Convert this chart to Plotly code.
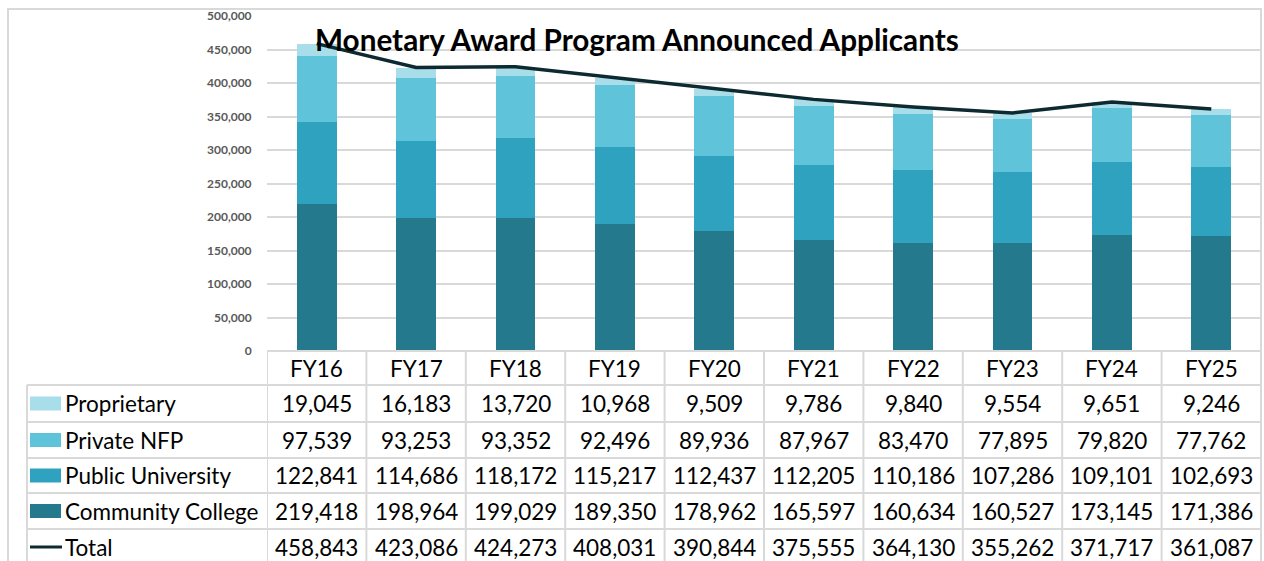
import plotly.graph_objects as go

# ---------------- data ----------------
years = ["FY16", "FY17", "FY18", "FY19", "FY20", "FY21", "FY22", "FY23", "FY24", "FY25"]
proprietary = [19045, 16183, 13720, 10968, 9509, 9786, 9840, 9554, 9651, 9246]
private_nfp = [97539, 93253, 93352, 92496, 89936, 87967, 83470, 77895, 79820, 77762]
public_univ = [122841, 114686, 118172, 115217, 112437, 112205, 110186, 107286, 109101, 102693]
community = [219418, 198964, 199029, 189350, 178962, 165597, 160634, 160527, 173145, 171386]
total = [458843, 423086, 424273, 408031, 390844, 375555, 364130, 355262, 371717, 361087]

title_text = "Monetary Award Program Announced Applicants"

# ---------------- style ----------------
W, H = 1264, 561
FONT = "Lato, 'Open Sans', sans-serif"
C_CC = "#247A8C"
C_PU = "#2EA2BF"
C_PN = "#5FC3DA"
C_PR = "#A8DDEA"
C_TOT = "#0D2A30"
GRID = "#D9D9D9"
TXT = 22.5

# pixel layout helpers (top-left origin)
def px(x):
    return x / W

def py(y):
    return 1 - y / H

plot_left, plot_right = 267, 1261
plot_top, plot_bottom = 16, 351
table_left = 27
row_edges = [351, 385, 422, 458, 493, 529, 565]

fig = go.Figure()

series = [
    ("Community College", community, C_CC),
    ("Public University", public_univ, C_PU),
    ("Private NFP", private_nfp, C_PN),
    ("Proprietary", proprietary, C_PR),
]
for name, vals, col in series:
    fig.add_trace(go.Bar(x=years, y=vals, name=name, marker=dict(color=col, line=dict(width=0)),
                         width=0.4))

fig.add_trace(go.Scatter(x=years, y=total, name="Total", mode="lines",
                         line=dict(color=C_TOT, width=3.5)))

shapes = []
annotations = []

# outer chart border
shapes.append(dict(type="rect", xref="paper", yref="paper", x0=px(8), x1=px(1261),
                   y0=py(600), y1=py(9), line=dict(color=GRID, width=2), layer="below"))

# table grid lines
shapes.append(dict(type="line", xref="paper", yref="paper", x0=px(plot_left), x1=px(plot_right),
                   y0=py(row_edges[0]), y1=py(row_edges[0]), line=dict(color=GRID, width=2)))
for ye in row_edges[1:-1]:
    shapes.append(dict(type="line", xref="paper", yref="paper", x0=px(table_left), x1=px(plot_right),
                       y0=py(ye), y1=py(ye), line=dict(color=GRID, width=2)))
shapes.append(dict(type="line", xref="paper", yref="paper", x0=px(table_left), x1=px(table_left),
                   y0=py(row_edges[1]), y1=py(600), line=dict(color=GRID, width=2)))
for i in range(len(years) + 1):
    shapes.append(dict(type="line", xref="x", yref="paper", x0=i - 0.5, x1=i - 0.5,
                       y0=py(row_edges[0]), y1=py(600), line=dict(color=GRID, width=2)))

# header row
hc = (row_edges[0] + row_edges[1]) / 2
for yr in years:
    annotations.append(dict(xref="x", yref="paper", x=yr, y=py(hc), text=yr, showarrow=False,
                            font=dict(family=FONT, size=TXT, color="#000"), xanchor="center", yanchor="middle"))

rows = [
    ("Proprietary", proprietary, C_PR, "box"),
    ("Private NFP", private_nfp, C_PN, "box"),
    ("Public University", public_univ, C_PU, "box"),
    ("Community College", community, C_CC, "box"),
    ("Total", total, C_TOT, "line"),
]
for r, (name, vals, col, kind) in enumerate(rows):
    yc = (row_edges[r + 1] + row_edges[r + 2]) / 2
    if kind == "box":
        shapes.append(dict(type="rect", xref="paper", yref="paper", x0=px(30), x1=px(61),
                           y0=py(yc + 7), y1=py(yc - 7), fillcolor=col, line=dict(width=0)))
    else:
        shapes.append(dict(type="line", xref="paper", yref="paper", x0=px(30), x1=px(62),
                           y0=py(yc), y1=py(yc), line=dict(color=col, width=3)))
    annotations.append(dict(xref="paper", yref="paper", x=px(63), y=py(yc), text=name, showarrow=False,
                            font=dict(family=FONT, size=TXT, color="#000"), xanchor="left", yanchor="middle"))
    for yr, v in zip(years, vals):
        annotations.append(dict(xref="x", yref="paper", x=yr, y=py(yc), text=f"{v:,}", showarrow=False,
                                font=dict(family=FONT, size=TXT, color="#000"),
                                xanchor="center", yanchor="middle"))

# title
annotations.append(dict(xref="paper", yref="paper", x=px(637), y=py(40), text=f"<b>{title_text}</b>",
                        showarrow=False, font=dict(family=FONT, size=29.7, color="#000"),
                        xanchor="center", yanchor="middle"))

fig.update_layout(
    width=W, height=H,
    margin=dict(l=0, r=0, t=0, b=0, autoexpand=False),
    paper_bgcolor="white", plot_bgcolor="white",
    barmode="stack",
    showlegend=False,
    shapes=shapes,
    annotations=annotations,
    xaxis=dict(domain=[px(plot_left), px(plot_right)], showticklabels=False, showgrid=False,
               zeroline=False, showline=False, range=[-0.5, len(years) - 0.5], fixedrange=True),
    yaxis=dict(domain=[py(plot_bottom), py(plot_top)], range=[0, 500000], dtick=50000,
               tickformat=",", showgrid=True, gridcolor=GRID, gridwidth=2, zeroline=False,
               showline=False, ticks="outside", ticklen=12, tickcolor="rgba(0,0,0,0)",
               automargin=False,
               tickfont=dict(family=FONT, size=12, color="#595959", weight="bold")),
)

fig.write_html("out.html")
